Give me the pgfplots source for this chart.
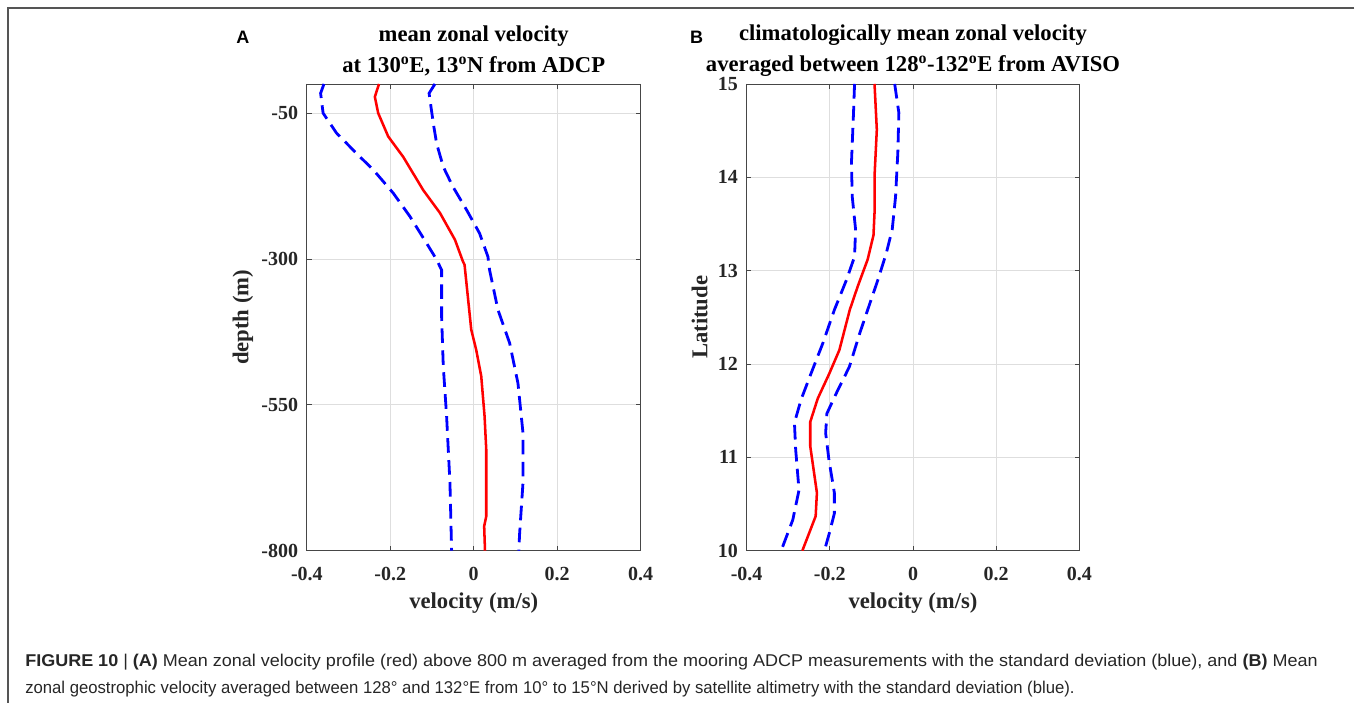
\documentclass[border=0pt]{standalone}
\usepackage{fontspec}
\setmainfont{Liberation Serif}
\newfontfamily\arial{Liberation Sans}
\usepackage{graphicx}
\usepackage{pgfplots}
\pgfplotsset{compat=1.18}
\definecolor{axgray}{RGB}{70,70,70}
\definecolor{gridgray}{RGB}{222,222,222}
\definecolor{framegray}{RGB}{85,85,85}
\pgfplotsset{
  mystyle/.style={
    scale only axis,
    axis line style={axgray, line width=0.6pt},
    tick style={axgray, line width=0.6pt},
    major tick length=3.5pt,
    tick align=inside,
    xtick pos=both, ytick pos=both,
    grid=major,
    major grid style={gridgray, line width=0.6pt},
    xmin=-0.4, xmax=0.4,
    xtick={-0.4,-0.2,0,0.2,0.4},
    xticklabels={-0.4,-0.2,0,0.2,0.4},
    tick label style={font=\fontsize{15}{18}\selectfont\bfseries, text=black!85},
    xticklabel style={yshift=-8.5pt},
    yticklabel style={xshift=-3pt},
    label style={font=\fontsize{17}{20}\selectfont\bfseries, text=black!85},
    title style={font=\fontsize{17}{23.5}\selectfont\bfseries, align=center, anchor=center},
    xlabel style={at={(axis description cs:0.5,-0.1113)}, anchor=center},
  },
  redline/.style={red, line width=1.9pt, no marks},
  blueline/.style={blue, line width=2.1pt, no marks, dash pattern=on 11pt off 5.5pt},
}
\begin{document}
\begin{tikzpicture}
\path (0,0) rectangle (1016.25pt,-527.25pt);
% frame
\draw[framegray, line width=1.1pt] (1016.25pt,-6pt) -- (6pt,-6pt) -- (6pt,-527.25pt);

\begin{axis}[mystyle,
  at={(230.25pt,-413.25pt)}, anchor=south west,
  width=250.5pt, height=350.25pt,
  ymin=-800, ymax=0,
  ytick={-800,-550,-300,-50},
  yticklabels={-800,-550,-300,-50},
  title={mean zonal velocity\\at 130\textsuperscript{o}E, 13\textsuperscript{o}N from ADCP},
  title style={at={(axis description cs:0.5,1.0537)}},
  xlabel={velocity (m/s)},
  ylabel={depth (m)},
  ylabel style={at={(axis description cs:-0.1916,0.5)}, anchor=center},
]
\addplot[redline] coordinates {
(-0.227,0) (-0.237,-22) (-0.229,-50) (-0.205,-90) (-0.169,-125) (-0.121,-182)
(-0.081,-221) (-0.045,-267) (-0.026,-304) (-0.022,-310) (-0.006,-421) (0.006,-456)
(0.018,-501) (0.026,-570) (0.030,-627) (0.030,-741) (0.025,-758) (0.027,-800)};
\addplot[blueline] coordinates {
(-0.359,0) (-0.367,-16) (-0.361,-50) (-0.329,-84) (-0.281,-119) (-0.241,-147)
(-0.193,-187) (-0.153,-227) (-0.113,-273) (-0.089,-301) (-0.077,-319) (-0.077,-399)
(-0.073,-484) (-0.065,-570) (-0.057,-684) (-0.053,-800)};
\addplot[blueline] coordinates {
(-0.093,0) (-0.107,-16) (-0.097,-67) (-0.089,-102) (-0.073,-142) (-0.050,-176)
(-0.017,-216) (0.014,-256) (0.034,-296) (0.038,-319) (0.058,-387) (0.086,-444)
(0.106,-513) (0.118,-598) (0.118,-684) (0.110,-770) (0.108,-800)};
\end{axis}

\begin{axis}[mystyle,
  at={(560.25pt,-413.25pt)}, anchor=south west,
  width=249.75pt, height=350.25pt,
  ymin=10, ymax=15,
  ytick={10,11,12,13,14,15},
  yticklabels={10,11,12,13,14,15},
  title={climatologically mean zonal velocity\\averaged between 128\textsuperscript{o}-132\textsuperscript{o}E from AVISO},
  title style={at={(axis description cs:0.5,1.0537)}},
  xlabel={velocity (m/s)},
  ylabel={Latitude},
  ylabel style={at={(axis description cs:-0.1411,0.5)}, anchor=center},
]
\addplot[redline] coordinates {
(-0.0925,15) (-0.087,14.51) (-0.0925,14.01) (-0.0925,13.62) (-0.095,13.38)
(-0.109,13.12) (-0.133,12.83) (-0.152,12.58) (-0.177,12.15) (-0.201,11.90)
(-0.229,11.63) (-0.247,11.38) (-0.247,11.12) (-0.231,10.62) (-0.234,10.37)
(-0.253,10.15) (-0.266,10.0)};
\addplot[blueline] coordinates {
(-0.1405,15) (-0.143,14.69) (-0.148,14.15) (-0.146,13.79) (-0.138,13.44)
(-0.1405,13.15) (-0.160,12.90) (-0.189,12.58) (-0.217,12.22) (-0.245,11.90)
(-0.269,11.62) (-0.285,11.37) (-0.282,11.08) (-0.274,10.65) (-0.289,10.33)
(-0.317,10.0)};
\addplot[blueline] coordinates {
(-0.044,15) (-0.034,14.69) (-0.0365,14.26) (-0.042,13.79) (-0.050,13.44)
(-0.064,13.19) (-0.0845,12.90) (-0.109,12.58) (-0.128,12.33) (-0.153,11.97)
(-0.184,11.69) (-0.207,11.47) (-0.210,11.26) (-0.202,10.97) (-0.189,10.62)
(-0.189,10.40) (-0.201,10.19) (-0.213,10.0)};
\end{axis}

\node[font=\arial\bfseries\fontsize{13.5}{16}\selectfont, anchor=center] at (182.25pt,-27.75pt) {A};
\node[font=\arial\bfseries\fontsize{13.5}{16}\selectfont, anchor=center] at (522.75pt,-27.75pt) {B};

\node[anchor=base west, inner sep=0pt, font=\arial\fontsize{12.8}{14}\selectfont, text=black!85] at (18.75pt,-500.25pt)
 {\resizebox{969.75pt}{\height}{\textbf{FIGURE 10} | \textbf{(A)} Mean zonal velocity profile (red) above 800 m averaged from the mooring ADCP measurements with the standard deviation (blue), and \textbf{(B)} Mean}};
\node[anchor=base west, inner sep=0pt, font=\arial\fontsize{12.8}{14}\selectfont, text=black!85] at (18.75pt,-520.5pt)
 {\resizebox{787.5pt}{\height}{zonal geostrophic velocity averaged between 128° and 132°E from 10° to 15°N derived by satellite altimetry with the standard deviation (blue).}};
\end{tikzpicture}
\end{document}
